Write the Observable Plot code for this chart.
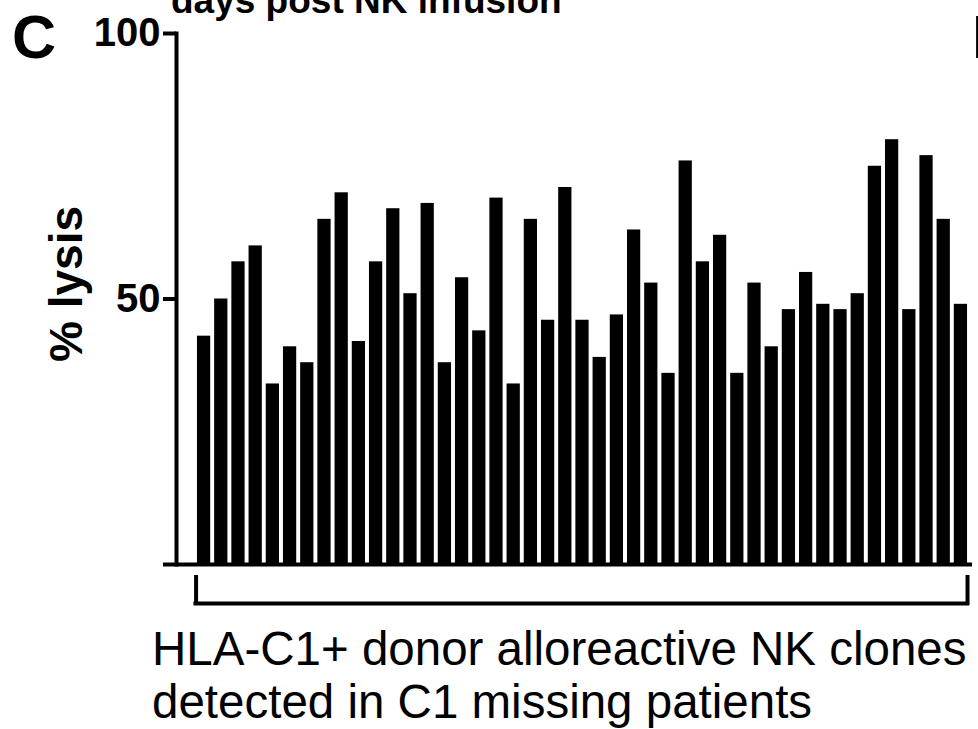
<!DOCTYPE html>
<html>
<head>
<meta charset="utf-8">
<script src="https://cdn.jsdelivr.net/npm/d3@7"></script>
<script src="https://cdn.jsdelivr.net/npm/@observablehq/plot@0.6"></script>
<style>
  html, body { margin: 0; padding: 0; background: #fff; }
  #wrap { position: relative; width: 978px; height: 729px; overflow: hidden; font-family: "Liberation Sans", Arial, sans-serif; color: #000; }
  #wrap svg { position: absolute; left: 0; top: 0; }
  .lbl { position: absolute; white-space: nowrap; line-height: 1; }
  .panel { font-size: 61px; font-weight: bold; top: 7px; }
  #title { left: 171px; top: -18px; font-size: 37px; font-weight: bold; }
  #ylab { left: 43px; top: 362px; font-size: 46px; font-weight: bold; transform: rotate(-90deg); transform-origin: 0 0; }
  #caption { left: 152px; top: 622px; font-size: 47.5px; line-height: 53px; }
</style>
</head>
<body>
<div id="wrap">
  <div class="lbl panel" style="left:12px">C</div>
  <div class="lbl panel" style="left:972px">D</div>
  <div class="lbl" id="title">days post NK infusion</div>
  <div class="lbl" id="ylab">% lysis</div>
  <div class="lbl" id="caption">HLA-C1+ donor alloreactive NK clones<br>detected in C1 missing patients</div>
</div>
<script>
// % lysis of each HLA-C1+ donor alloreactive NK clone (left to right)
const lysis = [43, 50, 57, 60, 34, 41, 38, 65, 70, 42, 57, 67, 51, 68, 38,
               54, 44, 69, 34, 65, 46, 71, 46, 39, 47, 63, 53, 36, 76, 57,
               62, 36, 53, 41, 48, 55, 49, 48, 51, 75, 80, 48, 77, 65, 49];
// clone identifiers (categories)
const clones = lysis.map((_, i) => `clone ${i + 1}`);
// y tick values and labels
const yTicks = [0, 50, 100];
const yTickLabels = ["", "50", "100"];

const data = clones.map((c, i) => ({clone: c, lysis: lysis[i]}));
const bracket = [{first: clones[0], last: clones[clones.length - 1]}];

const chart = Plot.plot({
  width: 978,
  height: 729,
  marginTop: 33,
  marginBottom: 165,
  marginLeft: 176,
  marginRight: 6,
  style: {fontFamily: '"Liberation Sans", Arial, sans-serif', background: "transparent", color: "black", overflow: "visible"},
  x: {domain: clones, range: [193, 971], padding: 0.23, round: false, axis: null},
  y: {domain: [0, 100], axis: null},
  marks: [
    Plot.barY(data, {x: "clone", y: "lysis", fill: "black"}),
    Plot.ruleY([0], {stroke: "black", strokeWidth: 4}),
    Plot.frame({anchor: "left", stroke: "black", strokeWidth: 4}),
    Plot.axisY({
      ticks: yTicks,
      tickFormat: (d) => yTickLabels[yTicks.indexOf(d)],
      tickSize: 13,
      tickPadding: 3,
      fontSize: 40,
      fontWeight: "bold",
      stroke: "black",
      fill: "black",
      strokeWidth: 4,
      label: null
    }),
    // bracket under the bars
    Plot.ruleY(bracket, {x1: "first", x2: "last", y: 0, dy: 39, insetLeft: -3.5, insetRight: -2, stroke: "black", strokeWidth: 4}),
    Plot.ruleX(bracket, {x: "first", y1: 0, y2: 0, dx: -8, insetTop: 11, insetBottom: -41, stroke: "black", strokeWidth: 4}),
    Plot.ruleX(bracket, {x: "last", y1: 0, y2: 0, dx: 6.6, insetTop: 11, insetBottom: -41, stroke: "black", strokeWidth: 4})
  ]
});
document.getElementById("wrap").prepend(chart);
</script>
</body>
</html>
